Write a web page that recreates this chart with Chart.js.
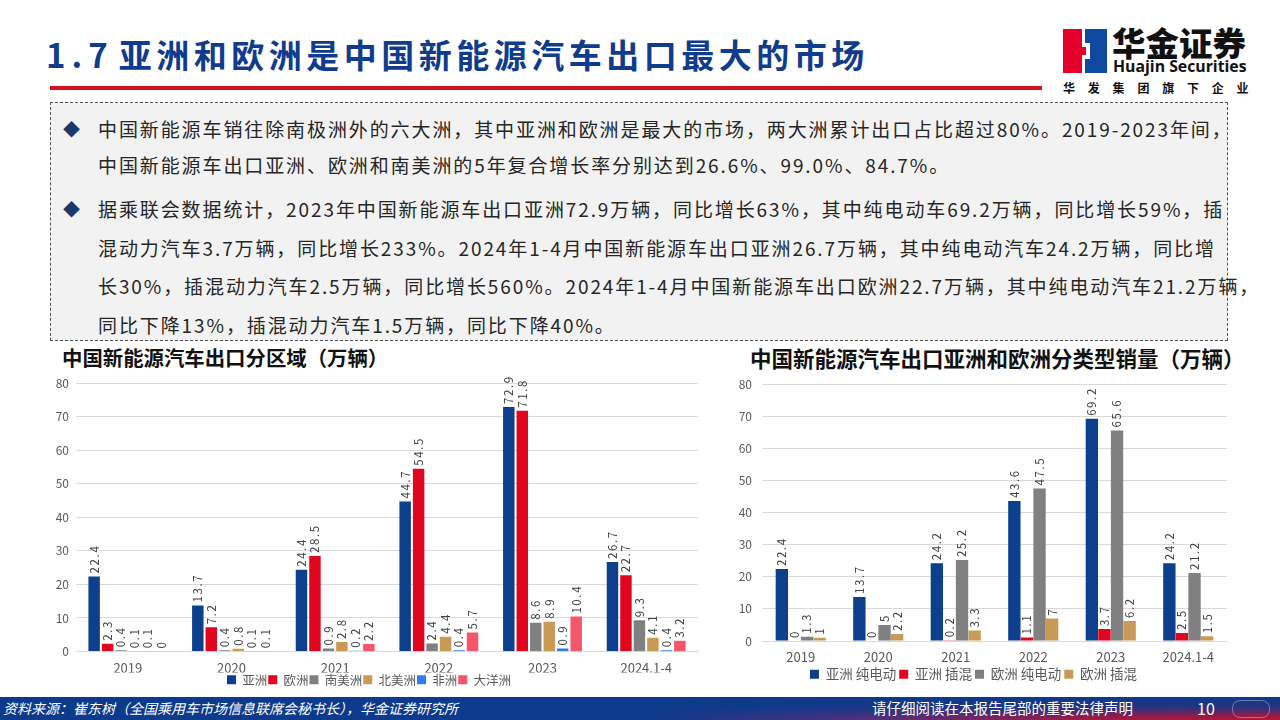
<!DOCTYPE html>
<html>
<head>
<meta charset="utf-8">
<script src="https://cdn.jsdelivr.net/npm/chart.js@4.4.0/dist/chart.umd.min.js"></script>
<style>
  html,body{margin:0;padding:0;background:#fff;}
  body{width:1280px;height:720px;position:relative;overflow:hidden;font-family:"Noto Sans CJK SC","Noto Sans",sans-serif;}
  .title{position:absolute;left:46px;top:31px;font-size:33px;font-weight:700;color:#0f3c8c;white-space:nowrap;line-height:46px;letter-spacing:4.5px;}
  .title .num{letter-spacing:6px;margin-right:5px;}
  .redline{position:absolute;left:50px;top:86px;width:992px;height:4px;background:#d9101f;}
  .logo-cn{position:absolute;left:1112px;top:22px;font-size:33.5px;font-weight:900;color:#111;line-height:40px;letter-spacing:0px;white-space:nowrap;}
  .logo-en{position:absolute;left:1113px;top:57px;font-size:15.8px;font-weight:700;color:#111;font-family:"Open Sans","Noto Sans",sans-serif;white-space:nowrap;line-height:18px;}
  .logo-sub{position:absolute;left:1063px;top:79px;font-size:12px;font-weight:700;color:#111;letter-spacing:12.8px;white-space:nowrap;line-height:18px;}
  .box{position:absolute;left:50px;top:102px;width:1176px;height:237px;border:1px dashed #555;background:#f2f2f2;}
  .para{position:absolute;left:47px;font-size:19px;letter-spacing:1.9px;color:#262626;line-height:38.5px;white-space:nowrap;}
  .bullet{position:absolute;left:12px;font-size:17px;color:#1a3a6e;line-height:38.5px;}
  .ctitle{position:absolute;font-weight:700;color:#111;white-space:nowrap;line-height:24px;}
  .chartbox{position:absolute;}
  .chartbox canvas{display:block;}
  .footer{position:absolute;left:0;top:697px;width:1280px;height:23px;
    background:linear-gradient(to bottom, rgba(12,58,140,1) 0%, rgba(12,58,140,0.85) 45%, rgba(12,58,140,0) 100%),
               linear-gradient(to right, #0c3a8c 0%, #0c3a8c 50%, #5a2d78 68%, #b0163a 85%, #c8102e 100%);}
  .ftext{position:absolute;top:0;color:#fff;font-style:italic;font-size:14px;line-height:22px;white-space:nowrap;}
  .flogo{position:absolute;left:1232px;top:700px;width:36px;height:16px;border-radius:8px;border:1px solid rgba(255,255,255,0.35);}
</style>
</head>
<body>
<div class="title"><span class="num">1.7</span>亚洲和欧洲是中国新能源汽车出口最大的市场</div>
<div class="redline"></div>
<svg style="position:absolute;left:1063px;top:29px" width="46" height="44" viewBox="0 0 46 44">
  <path d="M0 0 H19 V18 H23 V26 H19 V44 H0 Z" fill="#e4002b"/>
  <path d="M22 0 H44 V44 H22 V30 H27 V14 H22 Z" fill="#0f4aa0"/>
</svg>
<div class="logo-cn">华金证券</div>
<div class="logo-en">Huajin Securities</div>
<div class="logo-sub">华发集团旗下企业</div>

<div class="box">
  <div class="bullet" style="top:8px;line-height:36px;">◆</div>
  <div class="para" style="top:8px;line-height:36px;">中国新能源车销往除南极洲外的六大洲，其中亚洲和欧洲是最大的市场，两大洲累计出口占比超过80%。2019-2023年间，<br>中国新能源车出口亚洲、欧洲和南美洲的5年复合增长率分别达到26.6%、99.0%、84.7%。</div>
  <div class="bullet" style="top:87px">◆</div>
  <div class="para" style="top:87px">据乘联会数据统计，2023年中国新能源车出口亚洲72.9万辆，同比增长63%，其中纯电动车69.2万辆，同比增长59%，插<br>混动力汽车3.7万辆，同比增长233%。2024年1-4月中国新能源车出口亚洲26.7万辆，其中纯电动汽车24.2万辆，同比增<br>长30%，插混动力汽车2.5万辆，同比增长560%。2024年1-4月中国新能源车出口欧洲22.7万辆，其中纯电动汽车21.2万辆，<br>同比下降13%，插混动力汽车1.5万辆，同比下降40%。</div>
</div>

<div class="ctitle" style="left:62px;top:345px;font-size:20.4px;">中国新能源汽车出口分区域（万辆）</div>
<div class="ctitle" style="left:750px;top:346px;font-size:21.5px;">中国新能源汽车出口亚洲和欧洲分类型销量（万辆）</div>

<div class="chartbox" style="left:40px;top:369px;width:670px;height:327px;"><canvas id="c1" width="670" height="327"></canvas></div>
<div class="chartbox" style="left:720px;top:367px;width:520px;height:324px;"><canvas id="c2" width="520" height="324"></canvas></div>

<div class="footer">
  <div class="ftext" style="left:3px;">资料来源：崔东树（全国乘用车市场信息联席会秘书长），华金证券研究所</div>
  <div class="ftext" style="left:872px;font-style:normal;font-size:14.5px;">请仔细阅读在本报告尾部的重要法律声明</div>
  <div class="ftext" style="left:1197px;font-style:normal;font-size:16px;">10</div>
</div>
<div class="flogo"></div>

<script>
// ---------- data ----------
const categories = ['2019', '2020', '2021', '2022', '2023', '2024.1-4'];
const yTicks = [0, 10, 20, 30, 40, 50, 60, 70, 80];

// Chart 1: exports by region (万辆)
const regionNames = ['亚洲', '欧洲', '南美洲', '北美洲', '非洲', '大洋洲'];
const asia     = [22.4, 13.7, 24.4, 44.7, 72.9, 26.7];
const europe   = [2.3, 7.2, 28.5, 54.5, 71.8, 22.7];
const southAm  = [0.4, 0.4, 0.9, 2.4, 8.6, 9.3];
const northAm  = [0.1, 0.8, 2.8, 4.4, 8.9, 4.1];
const africa   = [0.1, 0.1, 0.2, 0.4, 0.9, 0.4];
const oceania  = [0, 0.1, 2.2, 5.7, 10.4, 3.2];
const regionColors = ['#0c3f8c', '#e0061f', '#808080', '#c99a55', '#2f7fe8', '#f4566a'];

// Chart 2: Asia / Europe by type (万辆)
const typeNames = ['亚洲 纯电动', '亚洲 插混', '欧洲 纯电动', '欧洲 插混'];
const asiaBEV   = [22.4, 13.7, 24.2, 43.6, 69.2, 24.2];
const asiaPHEV  = [0, 0, 0.2, 1.1, 3.7, 2.5];
const euBEV     = [1.3, 5, 25.2, 47.5, 65.6, 21.2];
const euPHEV    = [1, 2.2, 3.3, 7, 6.2, 1.5];
const typeColors = ['#0c3f8c', '#e0061f', '#808080', '#c99a55'];

// ---------- helpers ----------
const FONT = '"Noto Sans CJK SC","Noto Sans",sans-serif';
const valueLabels = {
  id: 'valueLabels',
  afterDatasetsDraw(chart, args, opts) {
    const ctx = chart.ctx;
    ctx.save();
    ctx.font = opts.size + 'px ' + FONT;
    ctx.fillStyle = opts.color;
    ctx.textAlign = 'left';
    ctx.textBaseline = 'middle';
    try { ctx.letterSpacing = opts.spacing + 'px'; } catch (e) {}
    chart.data.datasets.forEach((ds, i) => {
      const meta = chart.getDatasetMeta(i);
      meta.data.forEach((bar, j) => {
        ctx.save();
        ctx.translate(bar.x, bar.y - opts.offset);
        ctx.rotate(-Math.PI / 2);
        ctx.fillText(String(ds.data[j]), 0, 0);
        ctx.restore();
      });
    });
    ctx.restore();
  }
};

function makeChart(id, names, series, colors, cfg) {
  const datasets = series.map((s, i) => ({
    label: names[i], data: s, backgroundColor: colors[i], borderWidth: 0,
    categoryPercentage: cfg.catPct, barPercentage: cfg.barPct
  }));
  return new Chart(document.getElementById(id), {
    type: 'bar',
    data: { labels: categories, datasets },
    plugins: [valueLabels],
    options: {
      responsive: false,
      animation: false,
      layout: { padding: cfg.padding },
      plugins: {
        tooltip: { enabled: false },
        legend: {
          position: 'bottom',
          labels: { boxWidth: 9, boxHeight: 9, padding: cfg.legendPad, color: '#595959',
                    font: { size: cfg.legendFont, family: FONT } }
        },
        valueLabels: { size: 11.5, color: '#404040', offset: 3, spacing: 1.6 }
      },
      scales: {
        x: {
          grid: { display: false, drawTicks: false },
          border: { display: true, color: '#d9d9d9', width: 1 },
          ticks: { color: '#595959', padding: cfg.xPad, font: { size: 13, family: FONT, lineHeight: 1 } },
          afterFit(s) { s.height = cfg.xHeight; }
        },
        y: {
          min: 0, max: 80,
          afterBuildTicks(s) { s.ticks = yTicks.map(v => ({ value: v })); },
          grid: { color: '#d9d9d9', drawTicks: false },
          border: { display: false },
          ticks: { color: '#595959', padding: cfg.yPad, font: { size: 12, family: FONT } },
          afterFit(s) { s.width = cfg.yWidth; }
        }
      }
    }
  });
}

makeChart('c1', regionNames, [asia, europe, southAm, northAm, africa, oceania], regionColors, {
  catPct: 0.78, barPct: 0.85,
  padding: { left: 0, right: 12, top: 0, bottom: 0 },
  legendPad: 1, legendFont: 12.5, xPad: 10.5, xHeight: 21, yPad: 7, yWidth: 36
});
makeChart('c2', typeNames, [asiaBEV, asiaPHEV, euBEV, euPHEV], typeColors, {
  catPct: 0.65, barPct: 0.98,
  padding: { left: 0, right: 13, top: 0, bottom: 0 },
  legendPad: 3, legendFont: 13.5, xPad: 10, xHeight: 23.5, yPad: 10, yWidth: 42
});
</script>
</body>
</html>
